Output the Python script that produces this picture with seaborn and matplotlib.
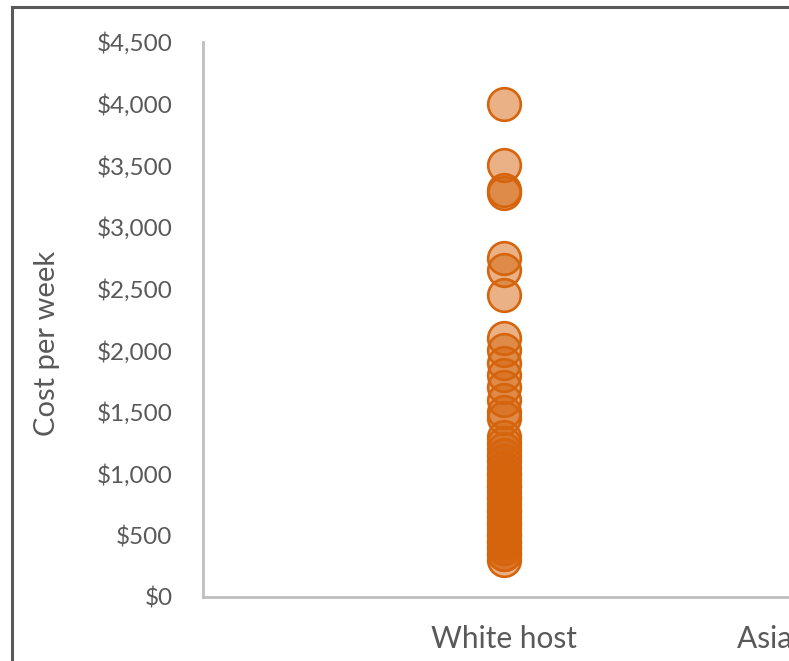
import matplotlib
matplotlib.use("Agg")
import matplotlib.pyplot as plt
import seaborn as sns
import pandas as pd
from matplotlib.patches import Rectangle
from matplotlib.ticker import FuncFormatter, MultipleLocator
from matplotlib.colors import to_rgba

categories = ["White host", "Asian host"]
white_host_costs = [4000, 3500, 3300, 3275, 2750, 2650, 2450,
                    2100, 2000, 1900, 1800, 1700, 1600, 1500, 1450,
                    1300, 1250, 1200, 1150, 1100, 1050, 1000, 1000, 950, 900, 900,
                    850, 800, 800, 750, 700, 700, 650, 600, 600, 550, 500, 500,
                    450, 450, 400, 400, 350, 350, 300]

df = pd.DataFrame({"host": [categories[0]] * len(white_host_costs),
                   "cost": white_host_costs})

sns.set_theme(style="white")
plt.rcParams["font.family"] = ["Lato", "DejaVu Sans"]

fig = plt.figure(figsize=(7.89, 6.61), dpi=100)
W, H = 789, 661
unit = 301
ax_w = unit * 2.5
ax = fig.add_axes([203 / W, (H - 597) / H, ax_w / W, 555 / H])

base = "#D5640C"
sns.stripplot(data=df, x="host", y="cost", order=categories, jitter=False,
              size=23.5, linewidth=1.9, ax=ax, color=base)
for coll in ax.collections:
    coll.set_facecolor(to_rgba(base, 0.5))
    coll.set_edgecolor(to_rgba(base, 1.0))

ax.set_xlim(-1, 1.5)
ax.set_ylim(0, 4500)
ax.yaxis.set_major_locator(MultipleLocator(500))
ax.yaxis.set_major_formatter(FuncFormatter(lambda v, p: f"${v:,.0f}"))

for s in ["top", "right"]:
    ax.spines[s].set_visible(False)
for s in ["left", "bottom"]:
    ax.spines[s].set_color("#BFBFBF")
    ax.spines[s].set_linewidth(2)

ax.tick_params(axis="both", length=0, colors="#595959")
ax.tick_params(axis="y", labelsize=17.5, pad=22)
ax.tick_params(axis="x", labelsize=21.5, pad=20)
ax.set_xlabel("")
ax.set_ylabel("Cost per week", fontsize=21, color="#595959")
ax.yaxis.set_label_coords((60 - 203) / ax_w, (597 - 343) / 555)

fig.patches.append(Rectangle((12 / W, -0.1), 1.2, (H - 7) / H + 0.1,
                             transform=fig.transFigure, fill=False,
                             edgecolor="#595959", linewidth=2.2))

fig.savefig("out.png", dpi=100)
